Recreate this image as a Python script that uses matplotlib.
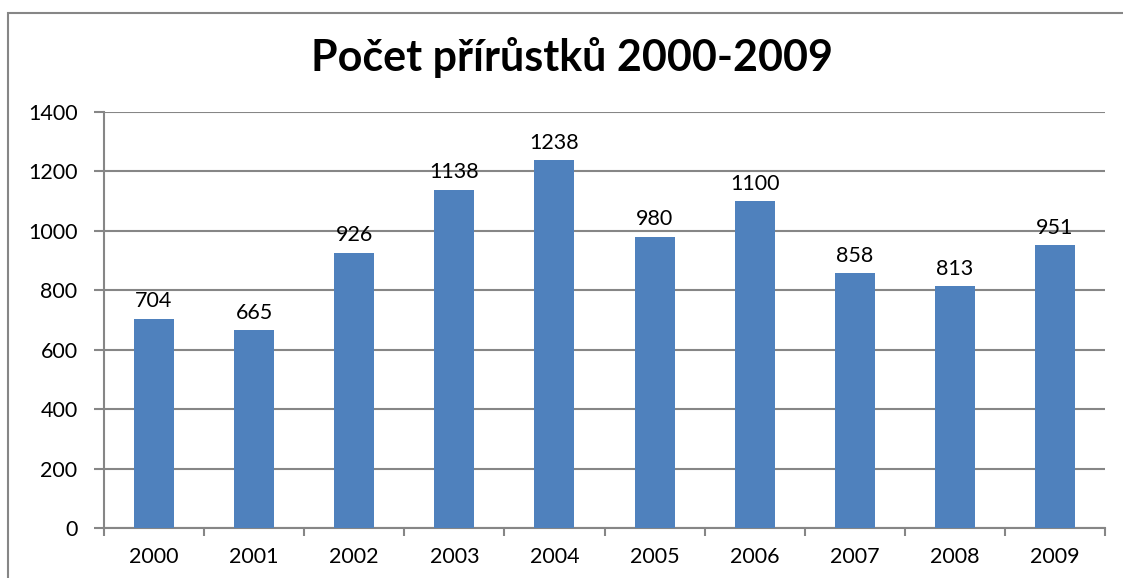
import matplotlib.pyplot as plt
import matplotlib.patches as mpatches
import numpy as np

years = ["2000", "2001", "2002", "2003", "2004", "2005", "2006", "2007", "2008", "2009"]
counts = [704, 665, 926, 1138, 1238, 980, 1100, 858, 813, 951]
y_ticks = [0, 200, 400, 600, 800, 1000, 1200, 1400]

plt.rcParams["font.family"] = ["Lato", "DejaVu Sans"]

bar_color = "#4F81BD"
grid_color = "#868686"

fig = plt.figure(figsize=(11.23, 5.78), dpi=100)
# chart frame (only left and top edges visible in the reference)
frame = mpatches.Rectangle((8 / 1123, -0.1), 1.2, (578 - 13) / 578 + 0.1,
                           transform=fig.transFigure, fill=False,
                           edgecolor=grid_color, linewidth=1.5)
fig.patches.append(frame)

ax = fig.add_axes([104 / 1123, 1 - 528 / 578, (1105 - 104) / 1123, (528 - 112) / 578])

x = np.arange(len(years))
ax.bar(x, counts, width=0.4, color=bar_color, zorder=3)
for xi, v in zip(x, counts):
    ax.text(xi, v + 25, str(v), ha="center", va="bottom", fontsize=15.5, color="black")

ax.set_xlim(-0.5, len(years) - 0.5)
ax.set_ylim(0, 1400)
ax.set_yticks(y_ticks)
ax.set_yticklabels([str(t) for t in y_ticks], fontsize=15.5)
ax.yaxis.grid(True, color=grid_color, linewidth=1.5, zorder=0)
ax.set_axisbelow(True)

ax.set_xticks(x)
ax.set_xticklabels(years, fontsize=15.5)
ax.set_xticks(np.arange(len(years) + 1) - 0.5, minor=True)
ax.tick_params(axis="x", which="major", length=0, pad=14)
ax.tick_params(axis="x", which="minor", length=6, width=1.5, color=grid_color)
ax.tick_params(axis="y", length=7, width=1.5, color=grid_color, pad=12)

for side in ["top", "right"]:
    ax.spines[side].set_visible(False)
for side in ["left", "bottom"]:
    ax.spines[side].set_color(grid_color)
    ax.spines[side].set_linewidth(1.5)

fig.text(572 / 1123, 1 - 57 / 578, "Počet přírůstků 2000-2009", ha="center", va="center",
         fontsize=31, fontweight="bold")

fig.savefig("out.png", dpi=100)
